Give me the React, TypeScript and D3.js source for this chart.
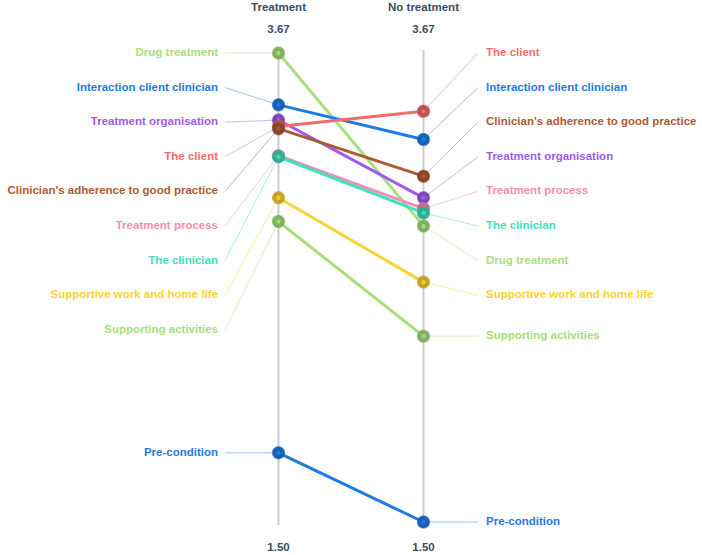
import React from "react";
import * as d3 from "d3";

const columns = ["Treatment", "No treatment"];
const categories = [
  "Drug treatment",
  "Interaction client clinician",
  "Treatment organisation",
  "The client",
  "Clinician's adherence to good practice",
  "Treatment process",
  "The clinician",
  "Supportive work and home life",
  "Supporting activities",
  "Pre-condition",
];
const treatmentValues = [3.67, 3.43, 3.36, 3.33, 3.32, 3.195, 3.19, 3.0, 2.89, 1.82];
const noTreatmentValues = [2.87, 3.27, 3.0, 3.4, 3.1, 2.95, 2.93, 2.61, 2.36, 1.5];
const colors = [
  "#a8e07c",
  "#1e7be6",
  "#a05be6",
  "#f36c6c",
  "#ad5a35",
  "#f48cb6",
  "#3fe0bd",
  "#fad234",
  "#a6e07a",
  "#1e7be6",
];
const axisTicks = ["3.67", "1.50"];

const W = 702;
const H = 555;
const FONT = "'Liberation Sans', Arial, Helvetica, sans-serif";
const GAP = 34.6;
const FS = 11.5;

function layoutLabels(naturals: number[], top: number): number[] {
  const n = naturals.length;
  const b = new Array(n).fill(0);
  b[n - 1] = naturals[n - 1];
  for (let i = n - 2; i >= 0; i--) b[i] = Math.min(naturals[i], b[i + 1] - GAP);
  const y = new Array(n).fill(0);
  for (let i = 0; i < n; i++) {
    const prev = i === 0 ? top - GAP : y[i - 1];
    y[i] = Math.max(b[i], prev + GAP, top);
  }
  return y;
}

export default function App() {
  const vmin = d3.min([...treatmentValues, ...noTreatmentValues]) as number;
  const vmax = d3.max([...treatmentValues, ...noTreatmentValues]) as number;
  const y = d3.scaleLinear().domain([vmin, vmax]).range([522, 53]);
  const x = d3.scalePoint<string>().domain(columns).range([278.5, 423.5]);
  const xL = x(columns[0]) as number;
  const xR = x(columns[1]) as number;

  const idx = categories.map((_, i) => i);
  const leftOrder = [...idx].sort((a, b) => treatmentValues[b] - treatmentValues[a]);
  const rightOrder = [...idx].sort((a, b) => noTreatmentValues[b] - noTreatmentValues[a]);
  const top = y(vmax);
  const leftLab = layoutLabels(leftOrder.map((i) => y(treatmentValues[i])), top);
  const rightLab = layoutLabels(rightOrder.map((i) => y(noTreatmentValues[i])), top);

  const line = d3.line<[number, number]>();

  const marker = (cx: number, cy: number, c: string, key: string) => {
    const dark = d3.color(c)!.darker(0.7).formatHex();
    return (
      <g key={key}>
        <circle cx={cx} cy={cy} r={6} fill={dark} stroke={dark} strokeOpacity={0.6} strokeWidth={1.5} />
        <circle cx={cx} cy={cy} r={2.2} fill={c} opacity={0.9} />
      </g>
    );
  };

  return (
    <svg width={W} height={H} style={{ position: "absolute", left: 0, top: 0 }} fontFamily={FONT}>
      {columns.map((col) => (
        <g key={col}>
          <line x1={x(col)} x2={x(col)} y1={50} y2={525} stroke="#c9cdd3" strokeWidth={2} />
          <text x={x(col)} y={7} textAnchor="middle" dominantBaseline="central" fontSize={FS} fontWeight="bold" fill="#3e4b63">
            {col}
          </text>
          <text x={x(col)} y={29} textAnchor="middle" dominantBaseline="central" fontSize={FS} fontWeight="bold" fill="#3e4b63">
            {axisTicks[0]}
          </text>
          <text x={x(col)} y={547} textAnchor="middle" dominantBaseline="central" fontSize={FS} fontWeight="bold" fill="#3e4b63">
            {axisTicks[1]}
          </text>
        </g>
      ))}
      {leftOrder.map((i, k) => (
        <g key={"ll" + i}>
          <line x1={225} y1={leftLab[k]} x2={xL} y2={y(treatmentValues[i])} stroke={colors[i]} strokeOpacity={0.45} strokeWidth={1} />
          <text x={218} y={leftLab[k] - 1} textAnchor="end" dominantBaseline="central" fontSize={FS} fontWeight="bold" fill={colors[i]}>
            {categories[i]}
          </text>
        </g>
      ))}
      {rightOrder.map((i, k) => (
        <g key={"rl" + i}>
          <line x1={xR} y1={y(noTreatmentValues[i])} x2={478} y2={rightLab[k]} stroke={colors[i]} strokeOpacity={0.45} strokeWidth={1} />
          <text x={486} y={rightLab[k] - 1} textAnchor="start" dominantBaseline="central" fontSize={FS} fontWeight="bold" fill={colors[i]}>
            {categories[i]}
          </text>
        </g>
      ))}
      {idx.map((i) => (
        <path
          key={"s" + i}
          d={line([
            [xL, y(treatmentValues[i])],
            [xR, y(noTreatmentValues[i])],
          ]) as string}
          fill="none"
          stroke={colors[i]}
          strokeWidth={3}
        />
      ))}
      {idx.map((i) => marker(xL, y(treatmentValues[i]), colors[i], "ml" + i))}
      {idx.map((i) => marker(xR, y(noTreatmentValues[i]), colors[i], "mr" + i))}
    </svg>
  );
}
